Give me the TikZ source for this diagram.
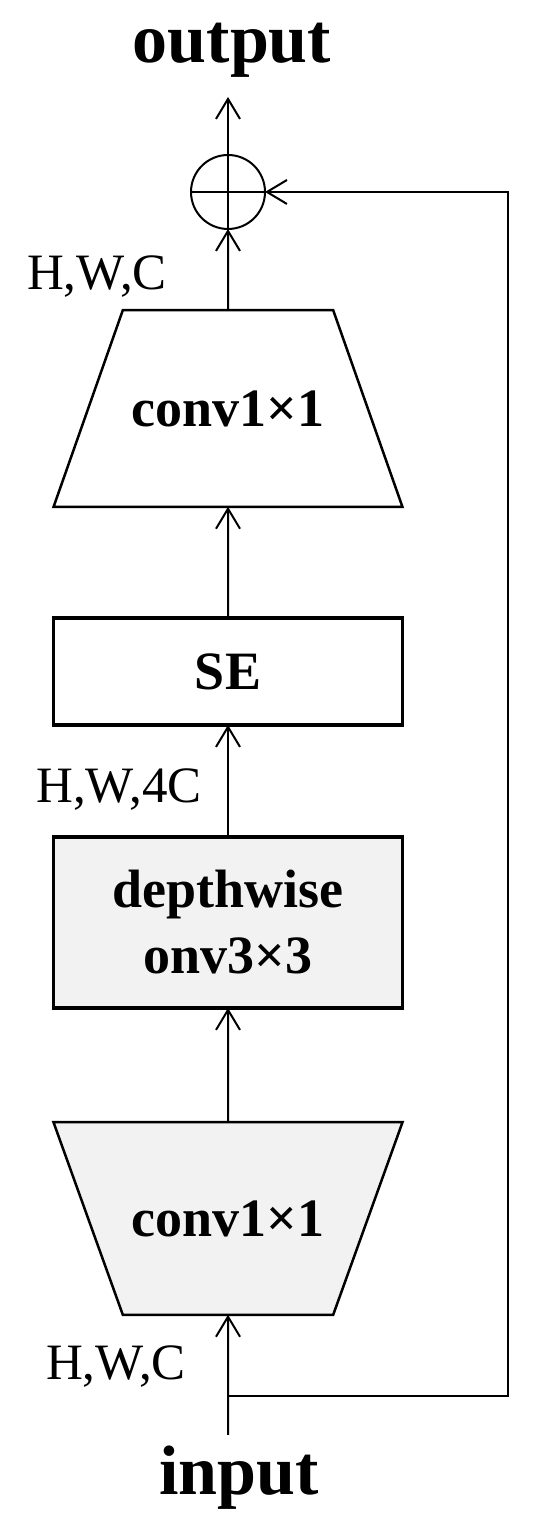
\documentclass[tikz,border=0pt]{standalone}
\usepackage{fontspec}
\setmainfont{Liberation Serif}
\usetikzlibrary{shapes.geometric,arrows.meta}
\definecolor{boxgray}{HTML}{F2F2F2}

\begin{document}
\begin{tikzpicture}[x=1pt,y=1pt]
   \tikzstyle{every node}=[inner sep=0pt, outer sep=0pt]
   \tikzstyle{link}=[line width=2pt]
   \tikzstyle{flow}=[line width=2pt, -{Straight Barb[length=20pt,width=24pt,line width=2pt]}]
   \tikzstyle{block}=[draw, line width=3.5pt, minimum width=349pt, font=\fontsize{54}{66}\selectfont\bfseries]
   \tikzstyle{trap}=[draw, trapezium, line width=2.5pt, inner xsep=8.8pt, font=\fontsize{54}{66}\selectfont\bfseries]
   \tikzstyle{dim}=[anchor=base, font=\fontsize{51}{60}\selectfont]
   \tikzstyle{io}=[anchor=base, font=\fontsize{70}{84}\selectfont\bfseries]
   \useasboundingbox (0,0) rectangle (550,1539);

\node[io] (output) at (232,1476) {output};
\node[draw, circle, line width=2pt, minimum size=74pt] (add) at (228,1347) {};
\node[trap, trapezium angle=70.6, inner ysep=80.2pt] (up) at (228,1130.5) {conv1×1};
\node[block, minimum height=107pt] (se) at (228,867.5) {SE};
\node[block, fill=boxgray, align=center, minimum height=171pt] (dw) at (228,616.5) {depthwise\\onv3×3};
\node[trap, fill=boxgray, shape border rotate=180, trapezium angle=70.2, inner ysep=78.2pt] (low) at (228,320.5) {conv1×1};
\node[io] (input) at (239,44) {input};

\node[dim] (hwctop) at (97,1249) {H,W,C};
\node[dim] (hwcmid) at (119,736) {H,W,4C};
\node[dim] (hwcbot) at (116,159) {H,W,C};

\coordinate (top) at (228,1442);
\coordinate (in) at (228,104);
\coordinate (split) at (228,143);
\coordinate (corner) at (508,143);

\draw[link] (add.north) -- (add.south) (add.west) -- (add.east);
\draw[flow] (add.north) -- (top);
\draw[flow] (up.north) -- (add.south);
\draw[flow] (se.north) -- (up.south);
\draw[flow] (dw.north) -- (se.south);
\draw[flow] (low.north) -- (dw.south);
\draw[flow] (in) -- (low.south);
\draw[flow] (split) -- (corner) |- (add.east);

\end{tikzpicture}
\end{document}
